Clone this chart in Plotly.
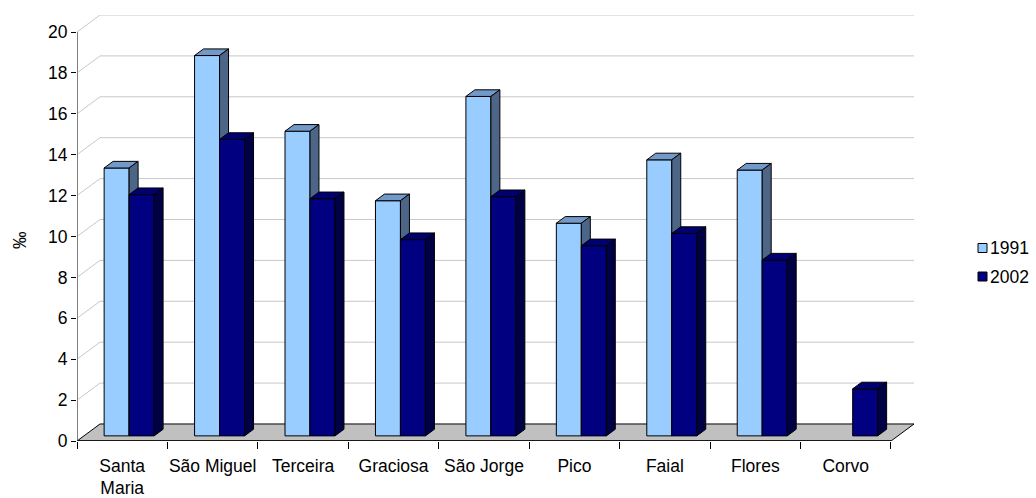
import plotly.graph_objects as go

# Birth rate per island (per mille), census years 1991 and 2002
islands = ["Santa Maria", "São Miguel", "Terceira", "Graciosa", "São Jorge",
           "Pico", "Faial", "Flores", "Corvo"]
island_labels = ["Santa<br>Maria", "São Miguel", "Terceira", "Graciosa", "São Jorge",
                 "Pico", "Faial", "Flores", "Corvo"]
years = ["1991", "2002"]
rate_1991 = [13.1, 18.6, 14.9, 11.5, 16.6, 10.4, 13.5, 13.0, None]
rate_2002 = [11.8, 14.5, 11.6, 9.6, 11.7, 9.3, 9.9, 8.6, 2.3]
y_ticks = list(range(0, 21, 2))

FONT = "Liberation Sans, Arial, sans-serif"
FONT_SIZE = 17.5

# Oblique projection: one unit of depth shifts right (category units) and up (value units)
DX = 0.2544
DY = 0.8325
N = len(islands)
Y_MAX = 20

BAR_W = 0.2764          # width of one bar, category units
BAR_X0 = (1 - 2 * BAR_W) / 2
D0, D1 = 0.30, 0.69     # front / back depth of the bars

colors = {
    "1991": {"front": "#99CCFF", "top": "#7399C8", "side": "#4D6688"},
    "2002": {"front": "#000080", "top": "#000070", "side": "#000044"},
}


def proj(x, d, y):
    return x + d * DX, y + d * DY


def faces(i, s, v):
    x0 = i + BAR_X0 + s * BAR_W
    x1 = x0 + BAR_W
    front = [proj(x0, D0, 0), proj(x1, D0, 0), proj(x1, D0, v), proj(x0, D0, v)]
    top = [proj(x0, D0, v), proj(x1, D0, v), proj(x1, D1, v), proj(x0, D1, v)]
    side = [proj(x1, D0, 0), proj(x1, D1, 0), proj(x1, D1, v), proj(x1, D0, v)]
    return {"front": front, "top": top, "side": side}


fig = go.Figure()

# back wall gridlines with their diagonal on the left wall
gx, gy = [], []
for t in y_ticks[1:]:
    for px, py in [proj(0, 0, t), proj(0, 1, t), proj(N, 1, t)]:
        gx.append(px)
        gy.append(py)
    gx.append(None)
    gy.append(None)
fig.add_trace(go.Scatter(x=gx, y=gy, mode="lines", line=dict(color="#C8C8C8", width=1),
                         hoverinfo="skip", showlegend=False))

# floor
floor = [proj(0, 0, 0), proj(N, 0, 0), proj(N, 1, 0), proj(0, 1, 0), proj(0, 0, 0)]
fig.add_trace(go.Scatter(x=[p[0] for p in floor], y=[p[1] for p in floor], mode="lines",
                         fill="toself", fillcolor="#C0C0C0",
                         line=dict(color="black", width=1), hoverinfo="skip",
                         showlegend=False))

# bars: each face kind of a series is one filled trace
for s, (year, values) in enumerate(zip(years, [rate_1991, rate_2002])):
    for kind in ["front", "top", "side"]:
        xs, ys = [], []
        for i, v in enumerate(values):
            if v is None:
                continue
            poly = faces(i, s, v)[kind]
            poly = poly + [poly[0]]
            xs += [p[0] for p in poly] + [None]
            ys += [p[1] for p in poly] + [None]
        fig.add_trace(go.Scatter(
            x=xs, y=ys, mode="lines", fill="toself",
            fillcolor=colors[year][kind], line=dict(color="black", width=1),
            name=year, showlegend=False,
            hoverinfo="skip" if kind != "front" else "text",
            text=year,
        ))

# front axis lines
shapes = [
    dict(type="line", xref="x", yref="y", x0=0, y0=0, x1=0, y1=Y_MAX,
         line=dict(color="#808080", width=2)),
    dict(type="line", xref="x", yref="y", x0=0, y0=0, x1=N, y1=0,
         line=dict(color="black", width=1.5)),
]

# legend keys
legend_y = [248, 276.5]
annotations = []
for year, yc in zip(years, legend_y):
    shapes.append(dict(type="rect", xref="paper", yref="paper",
                       x0=(978 - 77) / 837, x1=(987 - 77) / 837,
                       y0=(441 - yc - 4.5) / 426, y1=(441 - yc + 4.5) / 426,
                       fillcolor=colors[year]["front"], line=dict(color="black", width=1)))
    annotations.append(dict(xref="paper", yref="paper", x=(988 - 77) / 837,
                            y=(441 - yc) / 426, text=year, showarrow=False,
                            xanchor="left", yanchor="middle",
                            font=dict(family=FONT, size=FONT_SIZE, color="black")))

annotations.append(dict(xref="paper", yref="paper", x=(20 - 77) / 837, y=(441 - 240) / 426,
                        text="‰", showarrow=False, textangle=-90,
                        xanchor="center", yanchor="middle",
                        font=dict(family=FONT, size=FONT_SIZE, color="black")))

fig.update_layout(
    width=1036, height=498,
    margin=dict(l=77, r=1036 - 914, t=15, b=57, autoexpand=False),
    paper_bgcolor="white", plot_bgcolor="white",
    showlegend=False,
    shapes=shapes, annotations=annotations,
    font=dict(family=FONT, size=FONT_SIZE, color="black"),
    xaxis=dict(range=[0, N + DX], showgrid=False, zeroline=False, showline=False,
               automargin=False,
               tickmode="array", tickvals=[i + 0.5 for i in range(N)],
               ticktext=island_labels, ticks="", ticklabelstandoff=12,
               minor=dict(tickmode="array", tickvals=list(range(N + 1)), ticks="outside",
                          ticklen=7, tickcolor="black", tickwidth=1, showgrid=False),
               fixedrange=True),
    yaxis=dict(range=[0, Y_MAX + DY], showgrid=False, zeroline=False, showline=False,
               automargin=False,
               tickmode="array", tickvals=y_ticks, ticks="outside", ticklen=5,
               tickcolor="black", tickwidth=1, fixedrange=True),
)

fig.write_html("out.html")
